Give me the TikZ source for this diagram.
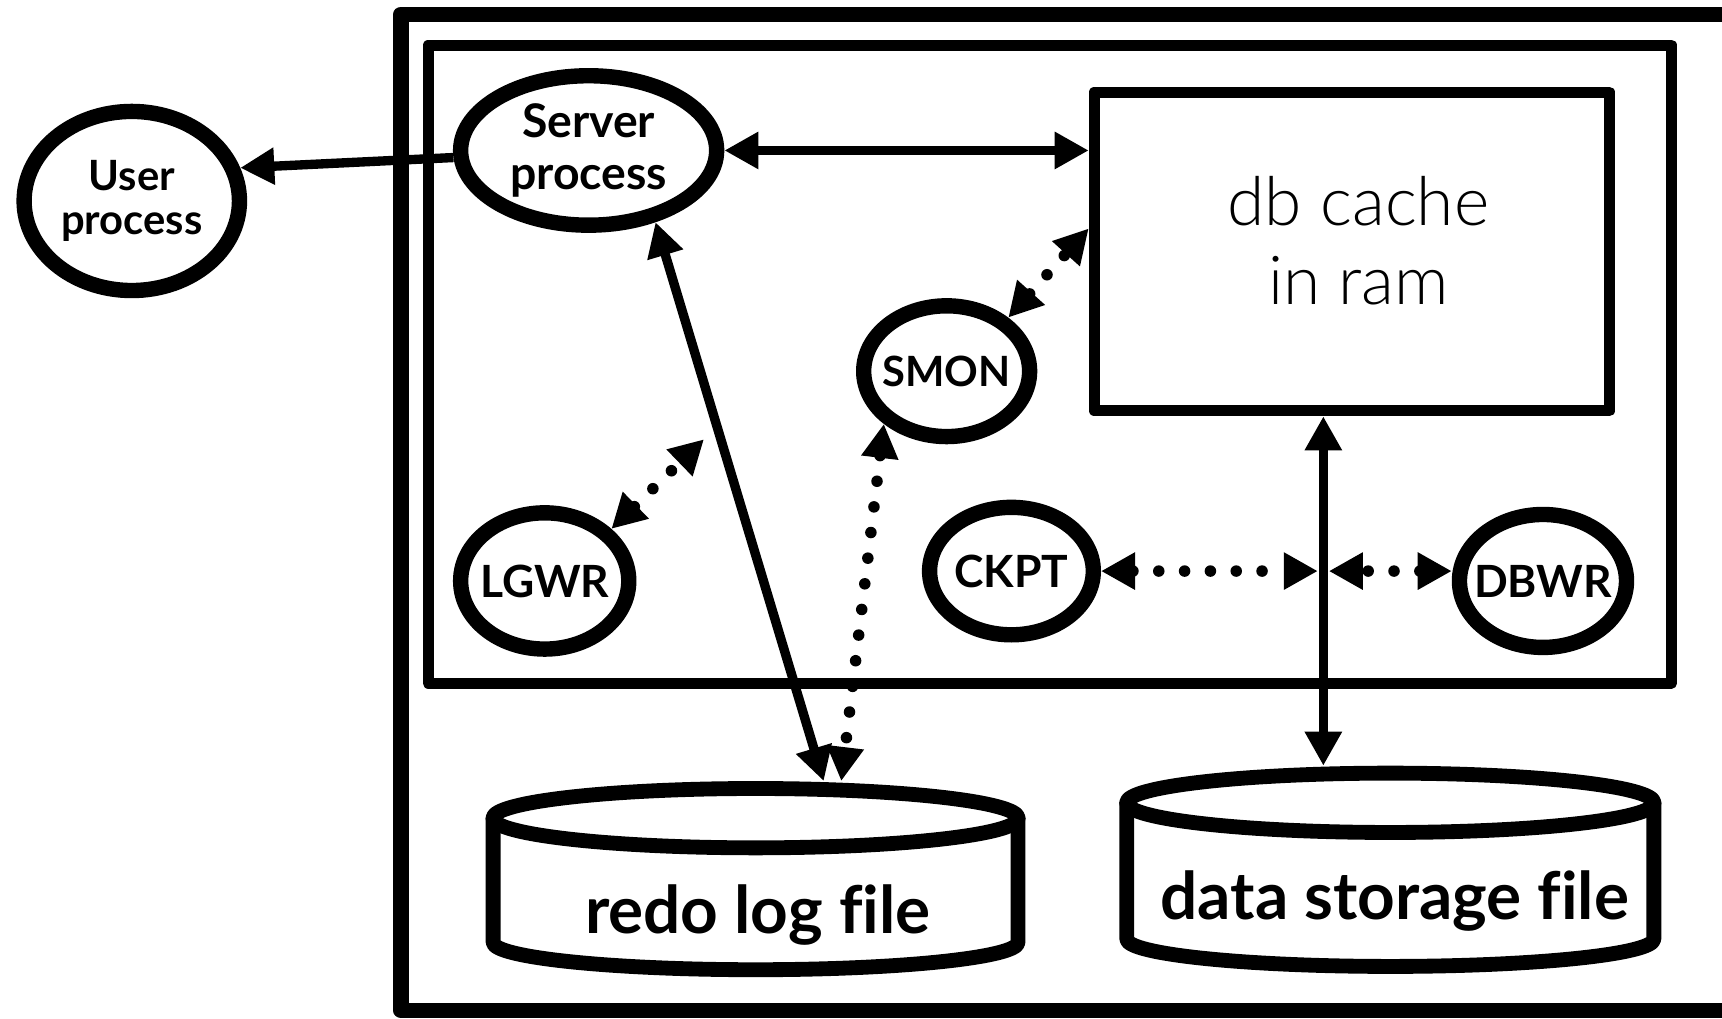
\documentclass[tikz,border=0pt]{standalone}
\usepackage{fontspec}
\setmainfont{Lato}[Ligatures=NoCommon]
\newfontfamily\lightfont{Lato Light}[Ligatures=NoCommon]
\usetikzlibrary{arrows.meta,shapes.geometric}

\tikzset{
  proc/.style={draw, ellipse, line width=0.14cm, inner sep=-0.15cm, align=center,
    font=\bfseries\fontsize{11.5}{13.5}\selectfont},
  disk/.style={line width=0.135cm},
  lid/.style={draw, ellipse, fill=white, line width=0.135cm, inner sep=0pt,
    minimum height=0.54cm},
  filename/.style={font=\bfseries\fontsize{17}{20}\selectfont},
  link/.style={line width=0.085cm,
    {Triangle[length=0.31cm,width=0.32cm]}-{Triangle[length=0.31cm,width=0.32cm]}},
  dotlink/.style={link, line width=0.105cm, line cap=round, dash pattern=on 0pt off 0.235cm},
}

\begin{document}
\begin{tikzpicture}[x=0.01cm, y=-0.01cm, line join=round]
  \useasboundingbox (0,0) rectangle (1568,927);
  % machine and instance
  \draw[line width=0.14cm] (1580,13) -- (365,13) -- (365,920) -- (1580,920);
  \draw[line width=0.1cm] (390,41) rectangle (1522,622);

  % processes
  \node[proc, minimum width=1.96cm, minimum height=1.63cm,
    font=\bfseries\fontsize{10.8}{11.4}\selectfont] (user) at (120,183) {User\\process};
  \node[proc, minimum width=2.33cm, minimum height=1.36cm,
    font=\bfseries\fontsize{12}{13.4}\selectfont] (server) at (536,137) {Server\\process};
  \node[proc, minimum width=1.51cm, minimum height=1.19cm,
    font=\bfseries\fontsize{10.8}{13}\selectfont] (smon) at (862,338) {SMON};
  \node[proc, minimum width=1.53cm, minimum height=1.24cm] (lgwr) at (496,529) {LGWR};
  \node[proc, minimum width=1.49cm, minimum height=1.16cm] (ckpt) at (921,520) {CKPT};
  \node[proc, minimum width=1.52cm, minimum height=1.21cm] (dbwr) at (1405,529) {DBWR};

  % cache
  \node[draw, line width=0.1cm, minimum width=4.69cm, minimum height=2.9cm] (cache) at (1231,229) {};
  \node[align=center, font=\lightfont\fontsize{17.5}{20.5}\selectfont] (cachetext) at (1237,219) {db cache\\in ram};

  % files
  \draw[disk] (449,745) -- (449,858) arc[start angle=180, end angle=0, x radius=239, y radius=25] -- (927,745);
  \node[lid, minimum width=4.78cm] (redo) at (688,745) {};
  \node[filename] (redolabel) at (690,833) {redo log file};
  \draw[disk] (1026,731) -- (1026,855) arc[start angle=180, end angle=0, x radius=240, y radius=25] -- (1506,731);
  \node[lid, minimum width=4.8cm] (store) at (1266,731) {};
  \node[filename] (storelabel) at (1270,820) {data storage file};

  \coordinate (lgwrend) at (641,400);
  \coordinate (tap) at (1205,520);

  % links
  \draw[line width=0.085cm, -{Triangle[length=0.31cm,width=0.32cm]}] (server.183) -- (user.17);
  \draw[link] (server.east) -- (server.east -| cache.west);
  \draw[link] (server.-47) -- ([xshift=0.62cm]redo.north);
  \draw[link] (cache.south -| tap) -- (store.north -| tap);
  \draw[dotlink] (lgwr.38) -- (lgwrend);
  \draw[dotlink] (smon.41) -- (cache.175);
  \draw[dotlink] (smon.220) -- ([xshift=0.78cm]redo.north);
  \draw[dotlink, shorten >=0.05cm] (ckpt.east) -- (tap);
  \draw[dotlink, shorten >=0.05cm] (tap -| dbwr.west) -- (tap);
\end{tikzpicture}
\end{document}
